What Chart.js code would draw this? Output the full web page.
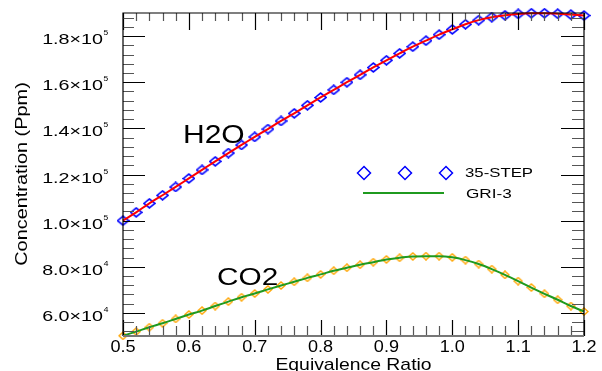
<!DOCTYPE html>
<html>
<head>
<meta charset="utf-8">
<script src="https://cdn.jsdelivr.net/npm/chart.js@4.4.1/dist/chart.umd.min.js"></script>
<style>
  html, body { margin: 0; padding: 0; background: #fff; }
  #wrap { width: 602px; height: 371px; }
</style>
</head>
<body>
<div id="wrap"><canvas id="chart" width="602" height="371"></canvas></div>
<script>
// equivalence ratio of each 35-STEP point
const ratios = [0.50,0.52,0.54,0.56,0.58,0.60,0.62,0.64,0.66,0.68,0.70,0.72,0.74,0.76,0.78,0.80,0.82,0.84,
                0.86,0.88,0.90,0.92,0.94,0.96,0.98,1.00,1.02,1.04,1.06,1.08,1.10,1.12,1.14,1.16,1.18,1.20];
// concentrations, ppm
const h2o = [100000,103600,107500,111000,114600,118300,122000,125700,129300,132800,136300,139700,
             143200,146500,150000,153400,156700,160000,163200,166400,169500,172500,175400,178000,
             180600,182900,185100,186900,188200,189000,189600,189900,189900,189700,189300,188900];
const co2 = [50100,51900,53800,55500,57400,59300,61000,63000,64900,66800,68400,70200,
             71900,73500,75200,76700,78300,79600,80900,82000,83200,83900,84500,84600,
             84600,84100,82900,81200,79000,76500,73800,71000,68300,65700,63000,60600];
const xTicks = [0.5,0.6,0.7,0.8,0.9,1.0,1.1,1.2];
const yTicks = [60000,80000,100000,120000,140000,160000,180000];
const legendLabels = ["35-STEP","GRI-3"];

const FONT = 'Arial, "Liberation Sans", Helvetica, sans-serif';
const pts = arr => ratios.map((r,i) => ({x:r, y:arr[i]}));
const SUP = {"4":"\u2074","5":"\u2075"};

function txt(ctx, s, x, y, size, sx, align, angle){
  ctx.save();
  ctx.translate(x, y);
  if(angle) ctx.rotate(angle);
  ctx.scale(sx, 1);
  ctx.font = size + "px " + FONT;
  ctx.textAlign = align; ctx.textBaseline = "alphabetic"; ctx.fillStyle = "#000";
  ctx.fillText(s, 0, 0);
  ctx.restore();
}
function diamond(ctx, x, y, rx, ry, color, w){
  ctx.save();
  ctx.strokeStyle = color; ctx.lineWidth = w;
  ctx.beginPath();
  ctx.moveTo(x-rx,y); ctx.lineTo(x,y-ry); ctx.lineTo(x+rx,y); ctx.lineTo(x,y+ry); ctx.closePath();
  ctx.stroke();
  ctx.restore();
}
// hollow, slightly flattened diamond used as point style
function diamondImg(w, h, color, lw){
  const c = document.createElement("canvas");
  c.width = w; c.height = h;
  diamond(c.getContext("2d"), w/2, h/2, w/2 - lw/2 - 0.3, h/2 - lw/2 - 0.3, color, lw);
  return c;
}
const blueMark = diamondImg(13, 11, "#0000ff", 1.6);
const orangeMark = diamondImg(10, 9, "#ffa500", 1.4);

// frame, inward ticks, tick labels, titles, legend
const decor = {
  id: "decor",
  afterDraw(chart){
    const {ctx, chartArea:a, scales:{x, y}} = chart;
    ctx.save();
    // x ticks every 0.02, major every 0.1
    for(let i = 0; i <= 35; i++){
      const px = Math.round(x.getPixelForValue(0.5 + i*0.02)) + 0.5;
      const major = i % 5 === 0;
      ctx.strokeStyle = major ? "#000" : "#555"; ctx.lineWidth = 1.2;
      ctx.beginPath();
      ctx.moveTo(px, a.bottom); ctx.lineTo(px, a.bottom - (major ? 16 : 10));
      ctx.moveTo(px, a.top); ctx.lineTo(px, a.top + (major ? 17 : 8));
      ctx.stroke();
    }
    // y ticks every 4000, major every 20000
    for(let k = -2; k <= 32; k++){
      const py = Math.round(y.getPixelForValue(60000 + k*4000)) + 0.5;
      const major = ((k % 5) + 5) % 5 === 0;
      ctx.strokeStyle = major ? "#000" : "#555"; ctx.lineWidth = 1.2;
      ctx.beginPath();
      ctx.moveTo(a.left, py); ctx.lineTo(a.left + (major ? 22 : 11), py);
      ctx.moveTo(a.right, py); ctx.lineTo(a.right - (major ? 23 : 12), py);
      ctx.stroke();
    }
    // frame
    ctx.strokeStyle = "#000"; ctx.lineWidth = 1.2;
    ctx.beginPath();
    ctx.moveTo(a.left, a.bottom); ctx.lineTo(a.left, a.top); ctx.lineTo(a.right, a.top); ctx.lineTo(a.right, a.bottom);
    ctx.stroke();
    ctx.strokeStyle = "#777"; ctx.lineWidth = 2;
    ctx.beginPath(); ctx.moveTo(a.left, a.bottom); ctx.lineTo(a.right, a.bottom); ctx.stroke();
    ctx.restore();

    // x tick labels
    xTicks.forEach(v => txt(ctx, v.toFixed(1), x.getPixelForValue(v), 352, 16, 1.13, "center"));
    // y tick labels, mantissa x 10^exp
    yTicks.forEach(v => {
      const e = Math.floor(Math.log10(v));
      const m = (v / Math.pow(10, e)).toFixed(1);
      const py = y.getPixelForValue(v);
      txt(ctx, m + "\u00d710", 103, py + 8, 14.5, 1.36, "right");
      txt(ctx, SUP[e] || String(e), 103, py + 2, 12.5, 1.1, "left");
    });
    // axis titles
    txt(ctx, "Equivalence Ratio", (a.left + a.right)/2, 370, 17, 1.14, "center");
    txt(ctx, "Concentration (Ppm)", 27, 174, 17, 1.17, "center", -Math.PI/2);
    // species labels
    txt(ctx, "H2O", 183, 143, 25, 1.2, "left");
    txt(ctx, "CO2", 217, 285, 24, 1.24, "left");
    // legend
    [364, 405, 446].forEach(px => diamond(ctx, px, 173, 6.5, 6.5, "#0000ff", 1.5));
    txt(ctx, legendLabels[0], 465, 177, 13, 1.29, "left");
    ctx.save();
    ctx.strokeStyle = "#1f9a1f"; ctx.lineWidth = 2;
    ctx.beginPath(); ctx.moveTo(363, 193); ctx.lineTo(444, 193); ctx.stroke();
    ctx.restore();
    txt(ctx, legendLabels[1], 466, 197.5, 13, 1.32, "left");
  }
};

new Chart(document.getElementById("chart"), {
  type: "line",
  data: {
    datasets: [
      { label: "H2O GRI-3", data: pts(h2o), borderColor: "#ff0000", borderWidth: 2, pointRadius: 0,
        cubicInterpolationMode: "monotone", clip: false },
      { label: "CO2 GRI-3", data: pts(co2), borderColor: "#1f9a1f", borderWidth: 2, pointRadius: 0,
        cubicInterpolationMode: "monotone", clip: false },
      { label: "H2O 35-STEP", data: pts(h2o), showLine: false, pointStyle: blueMark, pointRadius: 5, clip: false },
      { label: "CO2 35-STEP", data: pts(co2), showLine: false, pointStyle: orangeMark, pointRadius: 4, clip: false }
    ]
  },
  options: {
    responsive: false,
    animation: false,
    devicePixelRatio: 1,
    layout: { padding: { left: 123, right: 18, top: 13, bottom: 35 } },
    plugins: { legend: { display: false }, tooltip: { enabled: false } },
    scales: {
      x: { type: "linear", min: 0.5, max: 1.2, display: false },
      y: { type: "linear", min: 50000, max: 190000, display: false }
    }
  },
  plugins: [decor]
});
</script>
</body>
</html>
